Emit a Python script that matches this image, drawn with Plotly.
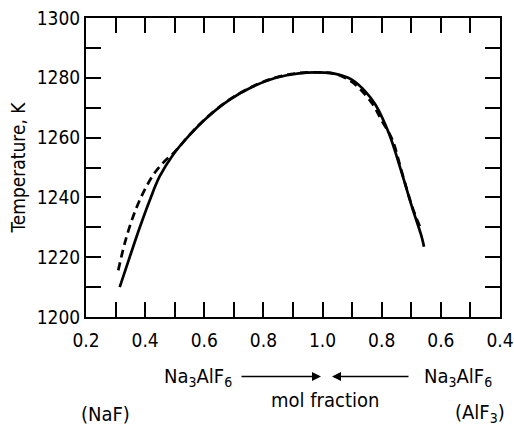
import plotly.graph_objects as go

# folded mol-fraction axis: 0.2..1.0 (NaF side), then 1.0..0.4 (AlF3 side) mapped to 1.0..1.6
solid_x = [0.314, 0.348, 0.382, 0.415, 0.449, 0.494, 0.55, 0.606, 0.685, 0.763, 0.842, 0.92,
           0.988, 1.044, 1.10, 1.145, 1.179, 1.224, 1.268, 1.302, 1.336, 1.343]
solid_T = [1210.0, 1220.1, 1230.0, 1238.9, 1247.0, 1254.2, 1260.8, 1266.4, 1272.6, 1277.0, 1280.0, 1281.5,
           1281.8, 1281.3, 1279.3, 1275.4, 1271.0, 1261.5, 1248.1, 1236.9, 1226.5, 1223.5]

dash_x = [0.309, 0.337, 0.371, 0.404, 0.435, 0.465, 0.50, 0.55, 0.606, 0.685, 0.763, 0.842, 0.92,
          0.988, 1.044, 1.085, 1.117, 1.167, 1.201, 1.235, 1.268, 1.302, 1.33]
dash_T = [1215.6, 1226.8, 1236.6, 1243.6, 1248.6, 1252.0, 1255.2, 1260.9, 1266.5, 1272.7, 1277.1, 1280.1, 1281.6,
          1281.8, 1281.3, 1279.5, 1277.2, 1271.5, 1265.5, 1259.5, 1248.5, 1237.2, 1230.0]

x_tickvals = [0.2, 0.4, 0.6, 0.8, 1.0, 1.2, 1.4, 1.6]
x_ticktext = ["0.2", "0.4", "0.6", "0.8", "1.0", "0.8", "0.6", "0.4"]
x_minorvals = [0.3, 0.5, 0.7, 0.9, 1.1, 1.3, 1.5]
y_tickvals = [1200, 1220, 1240, 1260, 1280, 1300]
y_minorvals = [1210, 1230, 1250, 1270, 1290]

FONT = "DejaVu Sans Condensed, DejaVu Sans, sans-serif"
R_EDGE = 500  # pixel position of right frame

fig = go.Figure()
fig.add_trace(go.Scatter(x=solid_x, y=solid_T, mode="lines",
                         line=dict(color="black", width=2.7, shape="spline", smoothing=1.0),
                         showlegend=False))
fig.add_trace(go.Scatter(x=dash_x, y=dash_T, mode="lines",
                         line=dict(color="black", width=2.7, dash="8px,5px", shape="spline", smoothing=1.0),
                         showlegend=False))

tick_minor = dict(ticks="inside", ticklen=15, tickwidth=2, tickcolor="black", showgrid=False)
axis_common = dict(showline=True, linecolor="black", linewidth=2, ticks="inside", mirror="ticks",
                   ticklen=15, tickwidth=2, tickcolor="black", showgrid=False, zeroline=False,
                   ticklabeloverflow="allow", automargin=False,
                   tickfont=dict(family=FONT, size=19, color="black"))

fig.update_layout(
    xaxis=dict(range=[0.2, 1.6], tickmode="array", tickvals=x_tickvals, ticktext=x_ticktext,
               minor=dict(tickvals=x_minorvals, **tick_minor),
               ticklabelstandoff=5, **axis_common),
    yaxis=dict(range=[1200, 1300], tickmode="array", tickvals=y_tickvals,
               minor=dict(tickvals=y_minorvals, **tick_minor),
               title=dict(text="Temperature, K", font=dict(family=FONT, size=19, color="black"), standoff=6),
               **axis_common),
)

W = R_EDGE - 86
ann_font = dict(family=FONT, size=20, color="black")
annotations = [
    dict(text="Na<sub>3</sub>AlF<sub>6</sub>", x=198, y=377),
    dict(text="Na<sub>3</sub>AlF<sub>6</sub>", x=458, y=377),
    dict(text="mol fraction", x=325, y=400),
    dict(text="(NaF)", x=105, y=414),
    dict(text="(AlF<sub>3</sub>)", x=480, y=413),
]
for a in annotations:
    fig.add_annotation(text=a["text"], xref="paper", yref="paper",
                       x=(a["x"] - 86) / W, y=(317 - a["y"]) / 299,
                       showarrow=False, font=ann_font, xanchor="center", yanchor="middle")

# arrows
fig.add_annotation(xref="paper", yref="paper", axref="pixel", ayref="pixel",
                   x=(321 - 86) / W, y=(317 - 376.5) / 299, ax=-81, ay=0,
                   text="", showarrow=True, arrowhead=2, arrowsize=1.2, arrowwidth=1.5, arrowcolor="black")
fig.add_annotation(xref="paper", yref="paper", axref="pixel", ayref="pixel",
                   x=(332 - 86) / W, y=(317 - 376.5) / 299, ax=78, ay=0,
                   text="", showarrow=True, arrowhead=2, arrowsize=1.2, arrowwidth=1.5, arrowcolor="black")

fig.update_layout(width=514, height=427, margin=dict(l=86, r=514 - R_EDGE, t=18, b=110),
                  plot_bgcolor="white", paper_bgcolor="white",
                  font=dict(family=FONT, color="black"))

fig.write_html("out.html")
